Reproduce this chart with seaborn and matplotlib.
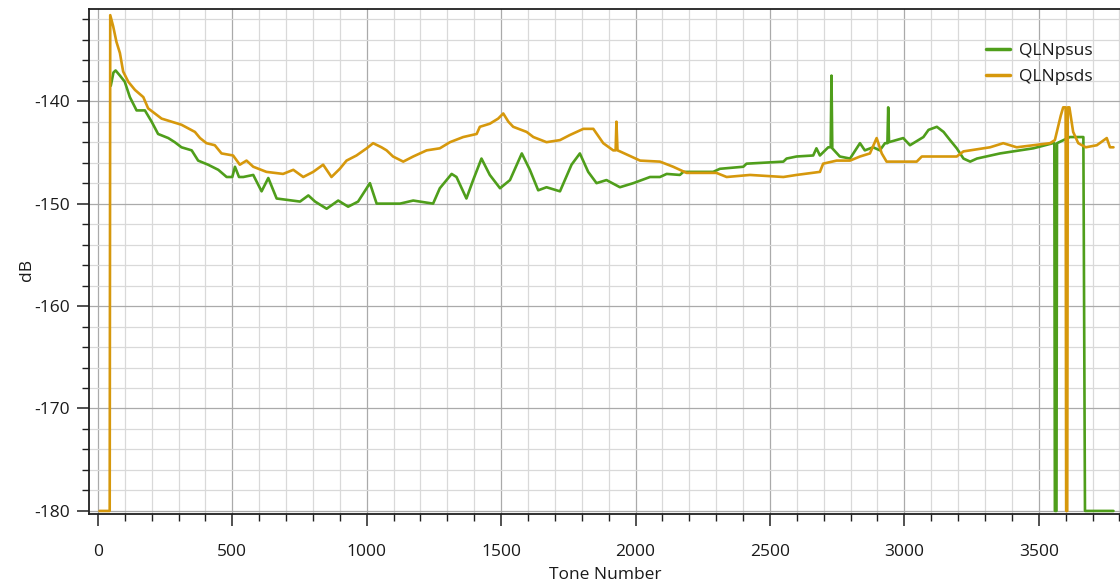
import matplotlib
matplotlib.use("Agg")
import matplotlib.pyplot as plt
from matplotlib.ticker import MultipleLocator
import seaborn as sns
import pandas as pd

# ---- data ----
us_tone = [48, 58, 66, 82, 100, 119, 144, 175, 200, 224, 262, 286, 311, 349, 373, 410, 448, 479, 500, 510, 525,
           541, 578, 609, 634, 665, 752, 783, 808, 851, 894, 931, 968, 1012, 1037, 1124, 1173, 1247, 1272, 1316,
           1334, 1371, 1396, 1427, 1458, 1496, 1533, 1577, 1607, 1638, 1669, 1719, 1762, 1793, 1824, 1855, 1892,
           1942, 1992, 2054, 2091, 2116, 2165, 2178, 2289, 2314, 2401, 2413, 2550, 2562, 2599, 2661, 2673, 2686,
           2717, 2726, 2729, 2732, 2760, 2798, 2835, 2853, 2884, 2909, 2928, 2937, 2940, 2943, 2996, 3021, 3071,
           3090, 3121, 3146, 3170, 3195, 3220, 3245, 3270, 3356, 3430, 3480, 3553, 3558, 3560, 3566, 3568, 3616,
           3666, 3672, 3778]
us_db = [-138.5, -137.2, -137.0, -137.5, -138.1, -139.6, -140.9, -140.9, -142.0, -143.2, -143.6, -144.0, -144.5,
         -144.8, -145.8, -146.2, -146.7, -147.4, -147.4, -146.4, -147.4, -147.4, -147.2, -148.8, -147.5, -149.5,
         -149.8, -149.2, -149.8, -150.5, -149.7, -150.3, -149.8, -148.0, -150.0, -150.0, -149.7, -150.0, -148.5,
         -147.1, -147.4, -149.5, -147.7, -145.6, -147.2, -148.5, -147.7, -145.1, -146.7, -148.7, -148.4, -148.8,
         -146.2, -145.1, -146.9, -148.0, -147.7, -148.4, -148.0, -147.4, -147.4, -147.1, -147.2, -146.9, -146.9,
         -146.6, -146.4, -146.1, -145.9, -145.6, -145.4, -145.3, -144.6, -145.3, -144.5, -144.5, -137.5, -144.6,
         -145.4, -145.6, -144.1, -144.8, -144.5, -144.8, -144.1, -144.1, -140.6, -144.0, -143.6, -144.3, -143.5,
         -142.8, -142.5, -143.0, -143.8, -144.6, -145.6, -145.9, -145.6, -145.1, -144.8, -144.6, -144.1, -144.1,
         -180.0, -180.0, -144.1, -143.5, -143.5, -180.0, -180.0]

ds_tone = [6, 44, 46, 57, 69, 82, 94, 113, 138, 169, 187, 212, 237, 274, 311, 361, 380, 404, 435, 460, 503, 528,
           553, 578, 627, 689, 727, 764, 801, 838, 869, 900, 925, 962, 1000, 1024, 1055, 1074, 1098, 1136, 1173,
           1223, 1272, 1310, 1359, 1409, 1421, 1458, 1489, 1508, 1527, 1545, 1595, 1620, 1669, 1719, 1756, 1806,
           1843, 1880, 1917, 1926, 1929, 1933, 1942, 2017, 2091, 2140, 2190, 2301, 2339, 2426, 2550, 2599, 2686,
           2698, 2748, 2798, 2835, 2872, 2897, 2916, 2934, 3046, 3065, 3195, 3220, 3319, 3368, 3418, 3480, 3542,
           3560, 3582, 3591, 3600, 3602, 3606, 3608, 3614, 3628, 3647, 3675, 3716, 3753, 3765, 3778]
ds_db = [-180.0, -180.0, -131.6, -132.7, -134.2, -135.3, -137.1, -138.1, -138.9, -139.6, -140.7, -141.2, -141.7,
         -142.0, -142.3, -143.0, -143.6, -144.1, -144.3, -145.1, -145.3, -146.2, -145.8, -146.4, -146.9, -147.1,
         -146.7, -147.4, -146.9, -146.2, -147.4, -146.6, -145.8, -145.3, -144.6, -144.1, -144.5, -144.8, -145.4,
         -145.9, -145.4, -144.8, -144.6, -144.0, -143.5, -143.2, -142.5, -142.2, -141.7, -141.2, -142.0, -142.5,
         -143.0, -143.5, -144.0, -143.8, -143.3, -142.7, -142.7, -144.1, -144.8, -144.8, -142.0, -144.8, -144.9,
         -145.8, -145.9, -146.4, -147.0, -147.0, -147.4, -147.2, -147.4, -147.2, -146.9, -146.1, -145.8, -145.8,
         -145.4, -145.1, -143.6, -145.1, -145.9, -145.9, -145.4, -145.4, -144.9, -144.5, -144.1, -144.5, -144.3,
         -144.1, -143.8, -141.4, -140.6, -140.6, -180.0, -180.0, -140.6, -140.6, -143.0, -144.1, -144.5, -144.3,
         -143.6, -144.5, -144.5]

series_names = ["QLNpsus", "QLNpsds"]
series_colors = ["#4f9e1b", "#d6980c"]

df = pd.concat([
    pd.DataFrame({"tone": us_tone, "db": us_db, "series": series_names[0]}),
    pd.DataFrame({"tone": ds_tone, "db": ds_db, "series": series_names[1]}),
], ignore_index=True)

sns.set_style("white")
plt.rcParams["font.family"] = ["Open Sans", "DejaVu Sans"]
plt.rcParams["axes.unicode_minus"] = False

fig = plt.figure(figsize=(11.2, 5.88), dpi=100)
ax = fig.add_axes([89 / 1120, 1 - 514 / 588, 1032 / 1120, 505 / 588])

sns.lineplot(data=df, x="tone", y="db", hue="series", hue_order=series_names,
             palette=series_colors, estimator=None, sort=False, linewidth=1.9, ax=ax)

ax.set_xlim(-33, 3806)
ax.set_ylim(-180.3, -131.0)
ax.xaxis.set_major_locator(MultipleLocator(500))
ax.xaxis.set_minor_locator(MultipleLocator(100))
ax.yaxis.set_major_locator(MultipleLocator(10))
ax.yaxis.set_minor_locator(MultipleLocator(2))
ax.grid(which="major", color="#aaaaaa", linewidth=0.9)
ax.grid(which="minor", color="#d9d9d9", linewidth=0.9)
ax.set_axisbelow(True)

for s in ["left", "bottom", "top"]:
    ax.spines[s].set_color("#202020")
    ax.spines[s].set_linewidth(1.3)
ax.spines["right"].set_visible(False)

ax.tick_params(which="major", direction="out", length=8.5, width=1.1, color="#202020",
               labelsize=12.5, labelcolor="#1a1a1a", left=True, bottom=True)
ax.tick_params(which="minor", direction="out", length=5, width=1.0, color="#202020",
               left=True, bottom=True)
ax.tick_params(axis="x", which="major", pad=13)
ax.tick_params(axis="y", which="major", pad=5)

ax.set_xlabel("Tone Number", fontsize=12.5, color="#1a1a1a", labelpad=5)
ax.set_ylabel("dB", fontsize=12.5, color="#1a1a1a")
ax.yaxis.set_label_coords((35 - 89) / 1032, (514 - 270) / 505)

leg = ax.legend(loc="upper left", bbox_to_anchor=(0.862, 0.947), frameon=False,
                fontsize=12.5, handlelength=1.4, handletextpad=0.5, labelspacing=0.6,
                borderaxespad=0)
for line in leg.get_lines():
    line.set_linewidth(2.5)
for t in leg.get_texts():
    t.set_color("#1a1a1a")

fig.savefig("out.png", dpi=100)
